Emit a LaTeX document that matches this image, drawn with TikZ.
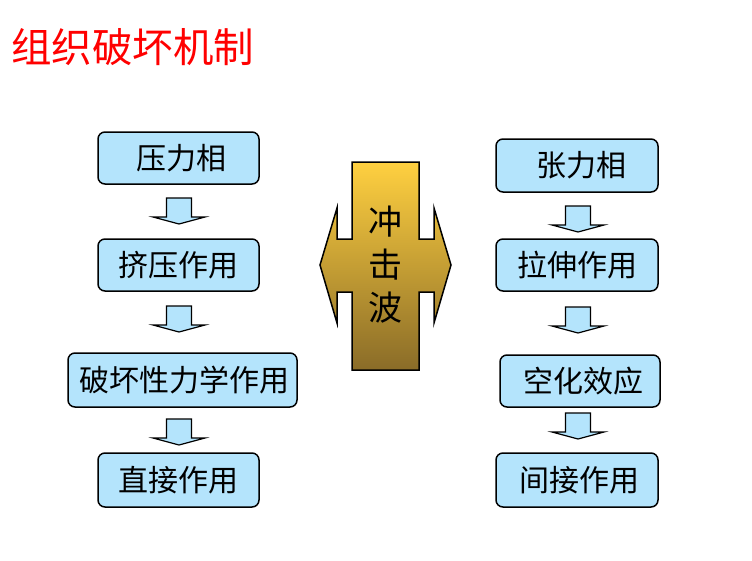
\documentclass[tikz,border=0pt]{standalone}
\usepackage{fontspec}
\newfontfamily\cjk{Noto Sans CJK SC}
\begin{document}
\begin{tikzpicture}[x=1pt,y=-1pt,
  box/.style={draw=black,line width=1.5pt,rounded corners=7pt,fill=boxblue,
    inner sep=0pt,font=\cjk\fontsize{30}{32}\selectfont},
  arrowshape/.style={draw=black,line width=1.2pt,fill=boxblue,line join=miter},
  darrow/.pic={\draw[arrowshape] (-12.5,0)--(12.5,0)--(12.5,19)--(26,19)--(0,26)--(-26,19)--(-12.5,19)--cycle;}
]
\definecolor{boxblue}{RGB}{180,228,252}
\definecolor{goldtop}{RGB}{255,208,64}
\definecolor{goldbot}{RGB}{138,108,40}
\useasboundingbox (0,0) rectangle (752,560);
\fill[white] (0,0) rectangle (752,560);
% title
\node[anchor=west,text=red,inner sep=0pt,font=\cjk\fontsize{40.5}{42}\selectfont] (title) at (11,47) {组织破坏机制};
% left column
\node[box,minimum width=161,minimum height=52] (l1) at (178.5,158) {\hspace{6pt}压力相};
\node[box,minimum width=161,minimum height=52] (l2) at (178.5,265) {挤压作用};
\node[box,minimum width=229,minimum height=54] (l3) at (182.5,380) {\hspace{4pt}破坏性力学作用};
\node[box,minimum width=161,minimum height=54] (l4) at (178.5,480) {直接作用};
% right column
\node[box,minimum width=162,minimum height=53] (r1) at (577,165.5) {\hspace{8pt}张力相};
\node[box,minimum width=162,minimum height=52] (r2) at (577,265) {拉伸作用};
\node[box,minimum width=160,minimum height=52] (r3) at (580,381) {\hspace{6pt}空化效应};
\node[box,minimum width=162,minimum height=54] (r4) at (577,480) {\hspace{4pt}间接作用};
% block arrows
\pic at (179,198) {darrow};
\pic at (179,306) {darrow};
\pic at (179,419) {darrow};
\pic at (578,206) {darrow};
\pic at (578,307) {darrow};
\pic at (578,413) {darrow};
% central shock-wave shape
\path[draw=black,line width=1.5pt,top color=goldtop,bottom color=goldbot,line join=miter]
  (352,162)--(419,162)--(419,239)--(434,239)--(434,208)--(451,265)--(434,323)--(434,292)
  --(419,292)--(419,370)--(352,370)--(352,292)--(337,292)--(337,323)--(320,265)
  --(337,208)--(337,239)--(352,239)--cycle;
\node[font=\cjk\fontsize{34}{36}\selectfont,inner sep=0pt] (c1) at (385.5,222) {冲};
\node[font=\cjk\fontsize{34}{36}\selectfont,inner sep=0pt] (c2) at (385.5,265) {击};
\node[font=\cjk\fontsize{34}{36}\selectfont,inner sep=0pt] (c3) at (385.5,308) {波};
\end{tikzpicture}
\end{document}
